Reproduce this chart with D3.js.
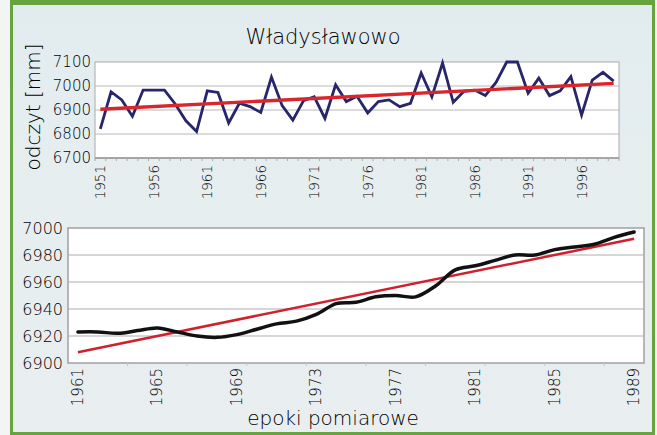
<!DOCTYPE html>
<html>
<head>
<meta charset="utf-8">
<script src="https://cdn.jsdelivr.net/npm/d3@7"></script>
<style>
  html, body { margin: 0; padding: 0; background: #f3f4f4; }
  svg text { font-family: "DejaVu Sans", Lato, sans-serif; font-weight: 200; fill: #000; }
</style>
</head>
<body>
<div id="chart"></div>
<script>
// upper panel: yearly readings
const topYears = [1951, 1952, 1953, 1954, 1955, 1956, 1957, 1958, 1959, 1960,
  1961, 1962, 1963, 1964, 1965, 1966, 1967, 1968, 1969, 1970,
  1971, 1972, 1973, 1974, 1975, 1976, 1977, 1978, 1979, 1980,
  1981, 1982, 1983, 1984, 1985, 1986, 1987, 1988, 1989, 1990,
  1991, 1992, 1993, 1994, 1995, 1996, 1997, 1998, 1999];
const topValues = [6821, 6976, 6942, 6874, 6983, 6983, 6983, 6925, 6855, 6810,
  6980, 6973, 6846, 6928, 6914, 6890, 7037, 6918, 6858, 6939,
  6955, 6865, 7005, 6935, 6957, 6888, 6935, 6942, 6914, 6928,
  7054, 6955, 7096, 6932, 6978, 6983, 6960, 7015, 7100, 7100,
  6970, 7033, 6960, 6980, 7039, 6879, 7025, 7057, 7020];
const topTrend = [6903, 7011]; // at first and last year
const topTickLabels = [1951, 1956, 1961, 1966, 1971, 1976, 1981, 1986, 1991, 1996];
const topYTicks = [6700, 6800, 6900, 7000, 7100];

// lower panel: smoothed epochs
const epochYears = [1961, 1962, 1963, 1964, 1965, 1966, 1967, 1968, 1969, 1970,
  1971, 1972, 1973, 1974, 1975, 1976, 1977, 1978, 1979, 1980,
  1981, 1982, 1983, 1984, 1985, 1986, 1987, 1988, 1989];
const epochValues = [6923, 6923, 6922, 6924, 6926, 6923, 6920, 6919, 6921, 6925,
  6929, 6931, 6936, 6944, 6945, 6949, 6950, 6949, 6957, 6969,
  6972, 6976, 6980, 6980, 6984, 6986, 6988, 6993, 6997];
const epochTrend = [6908, 6992];
const epochTickLabels = [1961, 1965, 1969, 1973, 1977, 1981, 1985, 1989];
const epochYTicks = [6900, 6920, 6940, 6960, 6980, 7000];

const width = 657, height = 435;
const svg = d3.select('#chart').append('svg').attr('width', width).attr('height', height);

const defs = svg.append('defs');
const grad = defs.append('linearGradient').attr('id', 'bg').attr('x1', 0).attr('y1', 0).attr('x2', 0).attr('y2', 1);
grad.append('stop').attr('offset', '0%').attr('stop-color', '#e2ecee');
grad.append('stop').attr('offset', '50%').attr('stop-color', '#e7eef0');
grad.append('stop').attr('offset', '100%').attr('stop-color', '#e9eeef');

// frame
svg.append('rect').attr('x', 10).attr('y', 0).attr('width', 645).attr('height', 435).attr('fill', '#67a43f');
svg.append('rect').attr('x', 13).attr('y', 5).attr('width', 639).attr('height', 427).attr('fill', 'url(#bg)');

// ---------- upper chart ----------
const t = { left: 95, right: 619, top: 62, bottom: 158 };
const xTop = d3.scaleBand().domain(topYears).range([t.left, t.right]);
const yTop = d3.scaleLinear().domain([6700, 7100]).range([t.bottom, t.top]);

svg.append('rect').attr('x', t.left).attr('y', t.top).attr('width', t.right - t.left).attr('height', t.bottom - t.top)
  .attr('fill', '#fff').attr('stroke', '#a9a9a9').attr('stroke-width', 1);

svg.append('g').selectAll('line').data(topYTicks.slice(1, -1)).join('line')
  .attr('x1', t.left).attr('x2', t.right)
  .attr('y1', d => yTop(d)).attr('y2', d => yTop(d))
  .attr('stroke', '#b8b8b8').attr('stroke-width', 1);

svg.append('g').attr('transform', `translate(${t.left},0)`)
  .call(d3.axisLeft(yTop).tickValues(topYTicks).tickFormat(d3.format('d')).tickSize(0).tickPadding(4))
  .call(g => g.select('.domain').remove())
  .selectAll('text').style('font-size', '15px').style('font-family', null).attr('fill', null);

// bottom axis with ticks at category boundaries
svg.append('line').attr('x1', t.left).attr('x2', t.right).attr('y1', t.bottom).attr('y2', t.bottom)
  .attr('stroke', '#999').attr('stroke-width', 1.5);
svg.append('g').selectAll('line').data(topYears.concat(['end'])).join('line')
  .attr('x1', (d, i) => t.left + i * xTop.bandwidth()).attr('x2', (d, i) => t.left + i * xTop.bandwidth())
  .attr('y1', t.bottom).attr('y2', t.bottom + 3)
  .attr('stroke', '#aaa');

svg.append('g').selectAll('text').data(topTickLabels).join('text')
  .attr('transform', d => `translate(${xTop(d) + xTop.bandwidth() / 2 + 5},${t.bottom + 7}) rotate(-90)`)
  .attr('text-anchor', 'end')
  .style('font-size', '13.5px')
  .text(d => d);

const lineTop = d3.line().x((d, i) => xTop(topYears[i]) + xTop.bandwidth() / 2).y(d => yTop(d));
svg.append('path').datum(topValues).attr('d', lineTop)
  .attr('fill', 'none').attr('stroke', '#27266a').attr('stroke-width', 2.8).attr('stroke-linejoin', 'miter');

const trendTopPts = [topYears[0], topYears[topYears.length - 1]];
svg.append('path').datum(topTrend)
  .attr('d', d3.line().x((d, i) => xTop(trendTopPts[i]) + xTop.bandwidth() / 2).y(d => yTop(d)))
  .attr('stroke', '#d9262c').attr('stroke-width', 3.4).attr('fill', 'none');

svg.append('text').attr('x', 323).attr('y', 44).attr('text-anchor', 'middle')
  .style('font-size', '21px').text('Władysławowo');

svg.append('text').attr('transform', 'translate(40,107) rotate(-90)').attr('text-anchor', 'middle')
  .style('font-size', '20px').text('odczyt [mm]');

// ---------- lower chart ----------
const b = { left: 68, right: 644, top: 228, bottom: 363 };
const xBot = d3.scaleBand().domain(epochYears).range([b.left, b.right]);
const yBot = d3.scaleLinear().domain([6900, 7000]).range([b.bottom, b.top]);

svg.append('rect').attr('x', b.left).attr('y', b.top).attr('width', b.right - b.left).attr('height', b.bottom - b.top)
  .attr('fill', '#fff').attr('stroke', '#a0a0a0').attr('stroke-width', 1.5);

svg.append('g').selectAll('line').data(epochYTicks.slice(1, -1)).join('line')
  .attr('x1', b.left).attr('x2', b.right)
  .attr('y1', d => yBot(d)).attr('y2', d => yBot(d))
  .attr('stroke', '#adadad').attr('stroke-width', 1.2);

svg.append('g').attr('transform', `translate(${b.left},0)`)
  .call(d3.axisLeft(yBot).tickValues(epochYTicks).tickFormat(d3.format('d')).tickSize(0).tickPadding(5))
  .call(g => g.select('.domain').remove())
  .selectAll('text').style('font-size', '16px').style('font-family', null).attr('fill', null);

svg.append('g').selectAll('line').data(epochYears.filter((d, i) => i % 3 === 2)).join('line')
  .attr('x1', d => xBot(d) + xBot.bandwidth()).attr('x2', d => xBot(d) + xBot.bandwidth())
  .attr('y1', b.bottom).attr('y2', b.bottom + 3)
  .attr('stroke', '#c4c4c4');

svg.append('g').selectAll('text').data(epochTickLabels).join('text')
  .attr('transform', d => `translate(${xBot(d) + xBot.bandwidth() / 2 + 5},${b.bottom + 5}) rotate(-90)`)
  .attr('text-anchor', 'end')
  .style('font-size', '15px')
  .text(d => d);

const trendBotPts = [epochYears[0], epochYears[epochYears.length - 1]];
svg.append('path').datum(epochTrend)
  .attr('d', d3.line().x((d, i) => xBot(trendBotPts[i]) + xBot.bandwidth() / 2).y(d => yBot(d)))
  .attr('stroke', '#d0202e').attr('stroke-width', 2.5).attr('fill', 'none');

const lineBot = d3.line().curve(d3.curveCatmullRom)
  .x((d, i) => xBot(epochYears[i]) + xBot.bandwidth() / 2).y(d => yBot(d));
svg.append('path').datum(epochValues).attr('d', lineBot)
  .attr('fill', 'none').attr('stroke', '#111').attr('stroke-width', 3.5).attr('stroke-linecap', 'round');

svg.append('text').attr('x', 333).attr('y', 425).attr('text-anchor', 'middle')
  .style('font-size', '20px').text('epoki pomiarowe');
</script>
</body>
</html>
